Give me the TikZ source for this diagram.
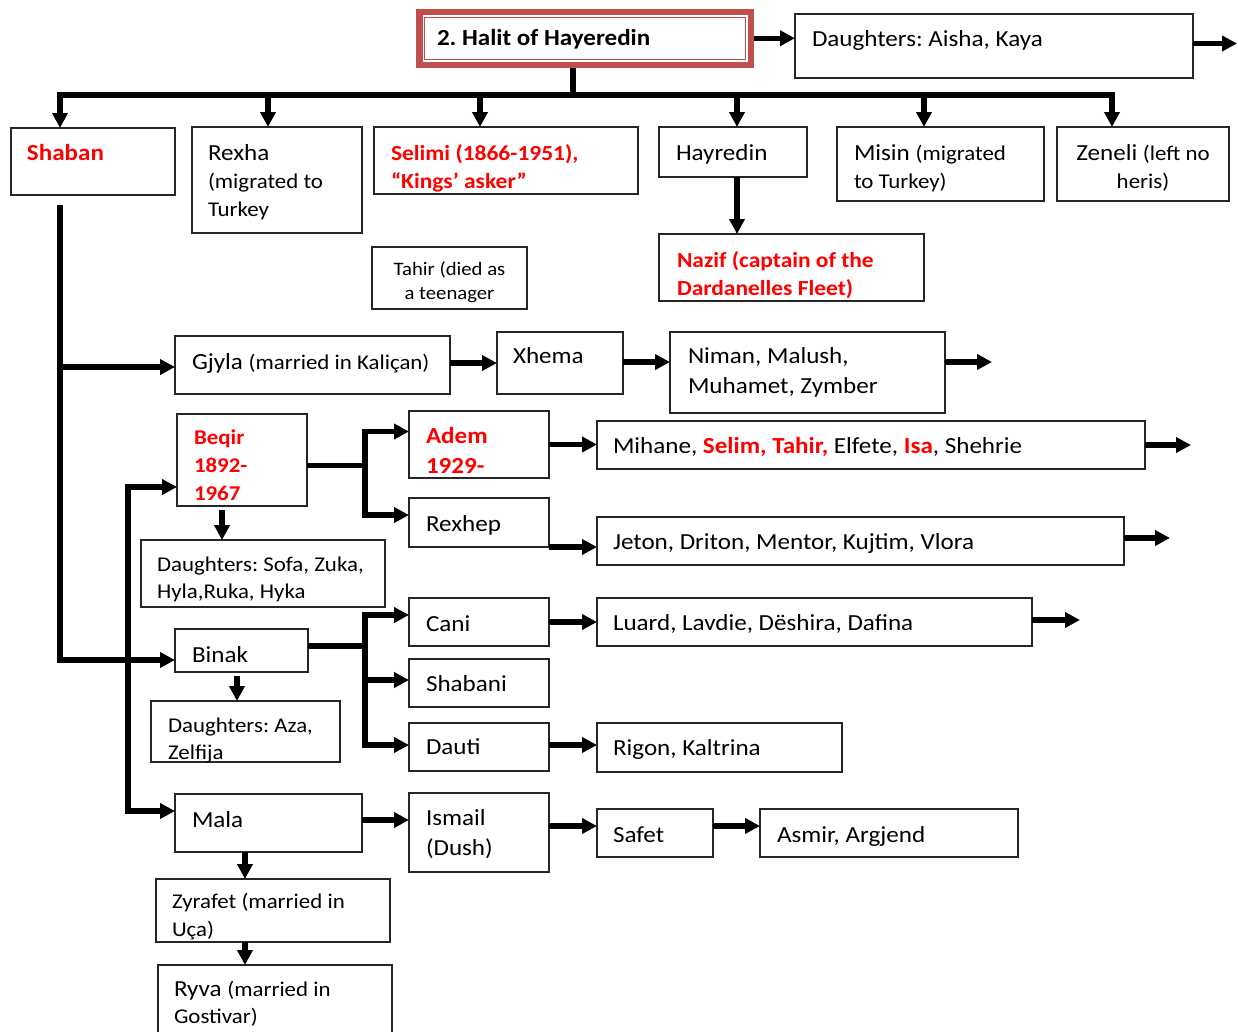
\documentclass[tikz,border=0pt]{standalone}
\usepackage{fontspec}
\setmainfont{Carlito}[FakeStretch=1.09]
\usetikzlibrary{arrows.meta,calc}
\definecolor{hred}{HTML}{C0504D}
\definecolor{tred}{HTML}{FF0000}
\frenchspacing
\newcommand\fs{\fontsize{21}{28}\selectfont}
% name, node opts, font extra, x, baseline, size, baselineskip, text
\newcommand\tl[8]{\node[txt,#2,font={\fontsize{#6}{#7}\selectfont#3}] (#1) at (#4,{#5-0.7*#7}) {\strut #8};}
% name, x1, y1, x2, y2
\newcommand\bx[5]{\node[box,minimum width={#4-#2},minimum height={#5-#3}] (#1) at (#2,#3) {};}
\begin{document}
\begin{tikzpicture}[x=1pt,y=-1pt,
  box/.style={draw=black!85,line width=1.5pt,anchor=north west,inner sep=0pt,outer sep=0pt},
  txt/.style={anchor=north west,inner sep=0pt,outer sep=0pt,align=left},
  ln/.style={line width=5.5pt},
  arr/.style={line width=5.5pt,-{Triangle[width=15pt,length=15pt]}}]
\useasboundingbox (0,0) rectangle (1238,1031);
\fill[white] (0,0) rectangle (1238,1031);
\clip (0,0) rectangle (1238,1031);

% ---- top box
\node[anchor=north west,inner sep=0pt,outer sep=0pt,minimum width=338,minimum height=59.5] (Halit) at (416,8.5) {};
\draw[hred,line width=6.5pt] ([shift={(3.25pt,-3.25pt)}]Halit.north west) rectangle ([shift={(-3.25pt,3.25pt)}]Halit.south east);
\draw[hred,line width=1.5pt] ([shift={(8.5pt,-9pt)}]Halit.north west) rectangle ([shift={(-8.5pt,8.5pt)}]Halit.south east);

% ---- boxes
\bx{DA}{795}{14}{1193}{78}
\bx{Shaban}{11}{128}{175}{195}
\bx{Rexha}{192}{127}{362}{233}
\bx{Selimi}{374}{127}{638}{194}
\bx{Hayredin}{659}{127}{807}{177}
\bx{Misin}{837}{127}{1044}{201}
\bx{Zeneli}{1057}{127}{1229}{201}
\bx{Nazif}{659}{234}{924}{301}
\bx{Tahir}{372}{247}{527}{309}
\bx{Gjyla}{175}{336}{450}{394}
\bx{Xhema}{497}{332}{623}{394}
\bx{Niman}{670}{332}{945}{413}
\bx{Beqir}{177}{414}{307}{506}
\bx{Adem}{409}{411}{549}{478}
\bx{Rexhep}{409}{498}{549}{547}
\bx{Mihane}{597}{421}{1145}{469}
\bx{Jeton}{597}{517}{1124}{565}
\bx{Sofa}{141}{540}{385}{607}
\bx{Binak}{175}{629}{308}{672}
\bx{Cani}{409}{598}{549}{646}
\bx{Shabani}{409}{659}{549}{707}
\bx{Dauti}{409}{723}{549}{771}
\bx{Luard}{597}{598}{1032}{646}
\bx{Rigon}{597}{723}{842}{772}
\bx{Aza}{151}{701}{340}{762}
\bx{Mala}{175}{794}{362}{852}
\bx{Ismail}{409}{793}{549}{872}
\bx{Safet}{597}{809}{713}{857}
\bx{Asmir}{760}{809}{1018}{857}
\bx{Zyrafet}{156}{879}{390}{942}
\bx{Ryva}{158}{965}{392}{1045}

% ---- texts
\tl{tHalit}{}{\bfseries}{437}{45}{23}{28.5}{2. Halit of Hayeredin}
\tl{tDA}{}{}{812}{46.5}{23}{28.5}{Daughters: Aisha, Kaya}
\tl{tShaban}{text=tred}{\bfseries}{27}{160}{23}{28.5}{Shaban}
\tl{tRexha}{}{}{208}{160}{23}{28.3}{Rexha\\{\fs (migrated to}\\{\fs Turkey}}
\tl{tSelimi}{text=tred}{\bfseries}{391}{160}{21.5}{28.5}{Selimi (1866-1951),\\“Kings’ asker”}
\tl{tHayredin}{}{}{676}{160}{23}{28.5}{Hayredin}
\tl{tMisin}{}{}{854}{160}{23}{28}{Misin {\fs(migrated}\\{\fs to Turkey)}}
\tl{tZeneli}{anchor=north,align=center}{}{1143}{160}{23}{28}{Zeneli {\fs(left no}\\{\fs heris)}}
\tl{tNazif}{text=tred}{\bfseries}{677}{267}{21.5}{28.3}{Nazif (captain of the\\Dardanelles Fleet)}
\tl{tTahir}{anchor=north,align=center}{}{449.5}{275}{19}{24.5}{Tahir (died as\\a teenager}
\tl{tGjyla}{}{}{192}{369}{23}{28.5}{Gjyla {\fs(married in Kaliçan)}}
\tl{tXhema}{}{}{513}{363}{23}{28.5}{Xhema}
\tl{tNiman}{}{}{688}{363}{23}{30.7}{Niman, Malush,\\Muhamet, Zymber}
\tl{tBeqir}{text=tred}{\bfseries}{194}{444}{21}{28}{Beqir\\1892-\\1967}
\tl{tAdem}{text=tred}{\bfseries}{426}{443}{23}{30}{Adem\\1929-}
\tl{tRexhep}{}{}{426}{531}{23}{28.5}{Rexhep}
\tl{tMihane}{}{}{613}{453}{23}{28.5}{Mihane, \textcolor{tred}{\bfseries Selim, Tahir,} Elfete, \textcolor{tred}{\bfseries Isa}, Shehrie}
\tl{tJeton}{}{}{613}{549}{23}{28.5}{Jeton, Driton, Mentor, Kujtim, Vlora}
\tl{tSofa}{}{}{157}{571}{21}{27.7}{Daughters: Sofa, Zuka,\\Hyla,Ruka, Hyka}
\tl{tBinak}{}{}{192}{662}{23}{28.5}{Binak}
\tl{tCani}{}{}{426}{631}{23}{28.5}{Cani}
\tl{tShabani}{}{}{426}{691}{23}{28.5}{Shabani}
\tl{tDauti}{}{}{426}{754}{23}{28.5}{Dauti}
\tl{tLuard}{}{}{613}{630}{23}{28.5}{Luard, Lavdie, Dëshira, Dafina}
\tl{tRigon}{}{}{613}{755}{23}{28.5}{Rigon, Kaltrina}
\tl{tAza}{}{}{168}{732}{21}{27.6}{Daughters: Aza,\\Zelfija}
\tl{tMala}{}{}{192}{827}{23}{28.5}{Mala}
\tl{tIsmail}{}{}{426}{825}{23}{30}{Ismail\\(Dush)}
\tl{tSafet}{}{}{613}{842}{23}{28.5}{Safet}
\tl{tAsmir}{}{}{777}{842}{23}{28.5}{Asmir, Argjend}
\tl{tZyrafet}{}{}{172}{908}{21}{28.4}{Zyrafet (married in\\Uça)}
\tl{tRyva}{}{}{174}{996}{23}{27.3}{Ryva {\fs(married in}\\{\fs Gostivar)}}

% ---- helper coordinates
\coordinate (bar) at (573,95);
\coordinate (x60) at (60,0);
\coordinate (x268) at (268,0);
\coordinate (x480) at (480,0);
\coordinate (x737) at (737,0);
\coordinate (x924) at (924,0);
\coordinate (x1112) at (1112,0);
\coordinate (x222) at (222,0);
\coordinate (x237) at (237,0);
\coordinate (x245) at (245,0);
\coordinate (s0) at (60,205);
\coordinate (m0) at (128,650);
\coordinate (bq) at (365,465.5);
\coordinate (bk) at (365,646);

% ---- connectors
\draw[arr] (Halit.east) -- (Halit.east -| DA.west);
\draw[arr] ([yshift=2.5pt]DA.east) -- ++(44,0);
\draw[ln] (Halit.south -| bar) -- (bar);
\draw[arr] (bar) -| (x60 |- Shaban.north);
\draw[arr] (bar) -| (x1112 |- Zeneli.north);
\draw[arr] (bar -| x268) -- (x268 |- Rexha.north);
\draw[arr] (bar -| x480) -- (x480 |- Selimi.north);
\draw[arr] (bar -| x737) -- (x737 |- Hayredin.north);
\draw[arr] (bar -| x924) -- (x924 |- Misin.north);
\draw[arr] (Hayredin.south -| x737) -- (Nazif.north -| x737);

\draw[arr] (s0) |- ([yshift=-2pt]Gjyla.west);
\draw[arr] (s0) |- ([yshift=-9.5pt]Binak.west);
\draw[arr] ([yshift=2pt]Gjyla.east) -- ++(47,0);
\draw[arr] ([yshift=1pt]Xhema.east) -- ++(47,0);
\draw[arr] ([yshift=1pt]Xhema.east -| Niman.east) -- ++(47,0);

\draw[arr] (m0) |- ([yshift=-27pt]Beqir.west);
\draw[arr] (m0) |- ([yshift=12pt]Mala.west);

\draw[ln] (Beqir.east |- bq) -- ([xshift=3pt]bq);
\draw[arr] (bq) |- ([yshift=13pt]Adem.west);
\draw[arr] (bq) |- ([yshift=7.5pt]Rexhep.west);
\draw[arr] (Adem.east) -- (Adem.east -| Mihane.west);
\draw[arr] (Mihane.east) -- ++(46,0);
\draw[arr] (Rexhep.south east) -- (Rexhep.south east -| Jeton.west);
\draw[arr] ([yshift=3pt]Jeton.east) -- ++(46,0);
\draw[arr,shorten <=4pt] (Beqir.south -| x222) -- (Sofa.north -| x222);

\draw[ln] (Binak.east |- bk) -- (bk);
\draw[arr] (bk) |- ([yshift=7pt]Cani.west);
\draw[arr] (bk) |- ([yshift=3pt]Shabani.west);
\draw[arr] (bk) |- ([yshift=2pt]Dauti.west);
\draw[arr] (Cani.east) -- (Cani.east -| Luard.west);
\draw[arr] ([yshift=2pt]Luard.east) -- ++(48,0);
\draw[arr] ([yshift=2pt]Dauti.east) -- ++(48,0);
\draw[arr,shorten <=4pt] (Binak.south -| x237) -- (Aza.north -| x237);

\draw[arr] ([yshift=3pt]Mala.east) -- ++(47,0);
\draw[arr] ([yshift=6.5pt]Ismail.east) -- ++(48,0);
\draw[arr] ([yshift=7pt]Safet.east) -- ++(47,0);
\draw[arr] (Mala.south -| x245) -- (Zyrafet.north -| x245);
\draw[arr] (Zyrafet.south -| x245) -- (Ryva.north -| x245);
\end{tikzpicture}
\end{document}
